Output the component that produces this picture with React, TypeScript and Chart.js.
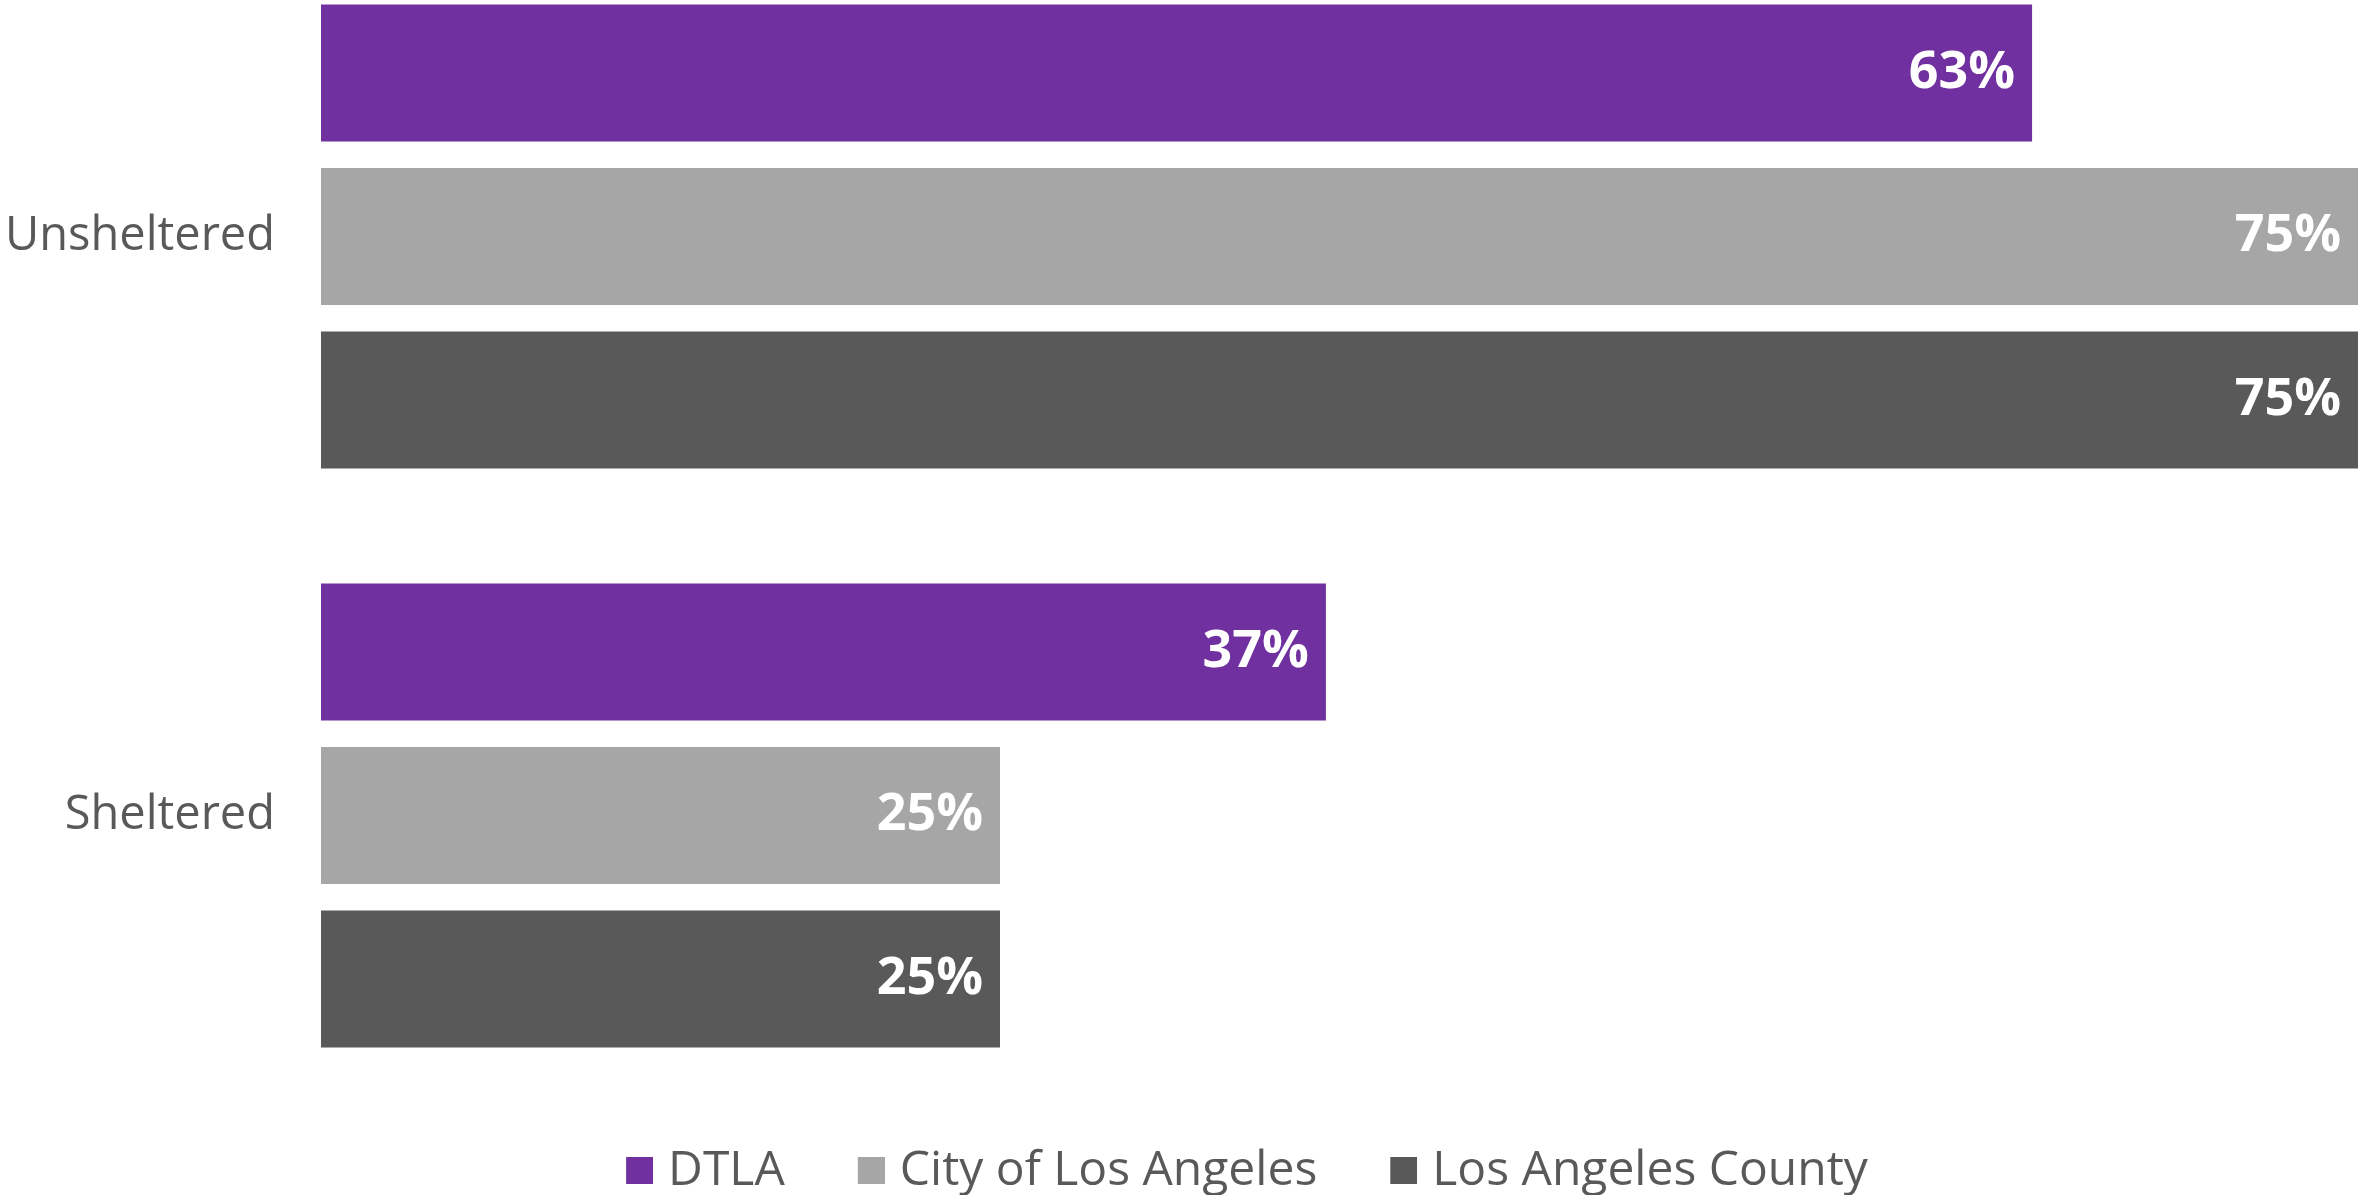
import React, { useEffect, useRef } from "react";
import { Chart, registerables } from "chart.js";

Chart.register(...registerables);

const categories = ["Unsheltered", "Sheltered"];
const seriesNames = ["DTLA", "City of Los Angeles", "Los Angeles County"];
const dtlaValues = [63, 37];
const cityValues = [75, 25];
const countyValues = [75, 25];
const seriesColors = ["#7030A0", "#A6A6A6", "#595959"];
const axisMax = 75;

const TEXT_COLOR = "#595959";
const FONT = "'Open Sans', Lato, sans-serif";

function makeMarker(color: string): HTMLCanvasElement {
  const c = document.createElement("canvas");
  c.width = 67;
  c.height = 34;
  const ctx = c.getContext("2d")!;
  ctx.fillStyle = color;
  ctx.fillRect(40, 3, 27, 27);
  return c;
}

const valueLabelPlugin = {
  id: "valueLabels",
  afterDatasetsDraw(chart: any) {
    const ctx = chart.ctx;
    ctx.save();
    ctx.font = `700 52px ${FONT}`;
    ctx.fillStyle = "#FFFFFF";
    ctx.textAlign = "right";
    ctx.textBaseline = "middle";
    chart.data.datasets.forEach((ds: any, di: number) => {
      const meta = chart.getDatasetMeta(di);
      meta.data.forEach((el: any, i: number) => {
        ctx.fillText(`${ds.data[i]}%`, el.x - 17, el.y);
      });
    });
    ctx.restore();
  },
};

const legendShiftPlugin = {
  id: "legendShift",
  afterLayout(chart: any) {
    const lg = chart.legend;
    if (lg) {
      lg.left = 105;
      lg.width = lg.right - lg.left;
    }
  },
};

export default function App() {
  const ref = useRef<HTMLCanvasElement | null>(null);

  useEffect(() => {
    document.body.style.margin = "0";
    const markers = seriesColors.map(makeMarker);
    const values = [dtlaValues, cityValues, countyValues];
    const chart = new Chart(ref.current!, {
      type: "bar",
      data: {
        labels: categories,
        datasets: seriesNames.map((name, i) => ({
          label: name,
          data: values[i],
          backgroundColor: seriesColors[i],
          borderWidth: 0,
          categoryPercentage: 0.8475,
          barPercentage: 0.838,
        })),
      },
      options: {
        indexAxis: "y",
        animation: false,
        responsive: false,
        maintainAspectRatio: false,
        devicePixelRatio: 1,
        layout: { padding: 0 },
        scales: {
          x: {
            display: false,
            min: 0,
            max: axisMax,
          },
          y: {
            afterFit: (scale: any) => {
              scale.width = 321;
              scale.paddingTop = 0;
              scale.paddingBottom = 0;
            },
            grid: { display: false, drawTicks: false },
            border: { display: false },
            ticks: {
              padding: 46,
              color: TEXT_COLOR,
              font: { family: FONT, size: 47, weight: "400" },
            },
          },
        },
        plugins: {
          tooltip: { enabled: false },
          legend: {
            position: "bottom",
            align: "center",
            labels: {
              usePointStyle: true,
              pointStyleWidth: 49,
              boxHeight: 27,
              padding: 42,
              color: TEXT_COLOR,
              font: { family: FONT, size: 48, weight: "400" },
              generateLabels: (c: any) =>
                c.data.datasets.map((ds: any, i: number) => ({
                  text: ds.label,
                  fillStyle: ds.backgroundColor,
                  strokeStyle: ds.backgroundColor,
                  lineWidth: 0,
                  hidden: !c.isDatasetVisible(i),
                  datasetIndex: i,
                  pointStyle: markers[i],
                  fontColor: TEXT_COLOR,
                })),
            },
          },
        },
      },
      plugins: [valueLabelPlugin, legendShiftPlugin],
    });
    return () => chart.destroy();
  }, []);

  return (
    <div
      style={{
        position: "fixed",
        left: 0,
        top: 0,
        width: 2358,
        height: 1195,
        overflow: "hidden",
        background: "#FFFFFF",
      }}
    >
      <canvas
        ref={ref}
        width={2358}
        height={1258}
        style={{ position: "absolute", left: 0, top: -53, width: 2358, height: 1258 }}
      />
    </div>
  );
}
